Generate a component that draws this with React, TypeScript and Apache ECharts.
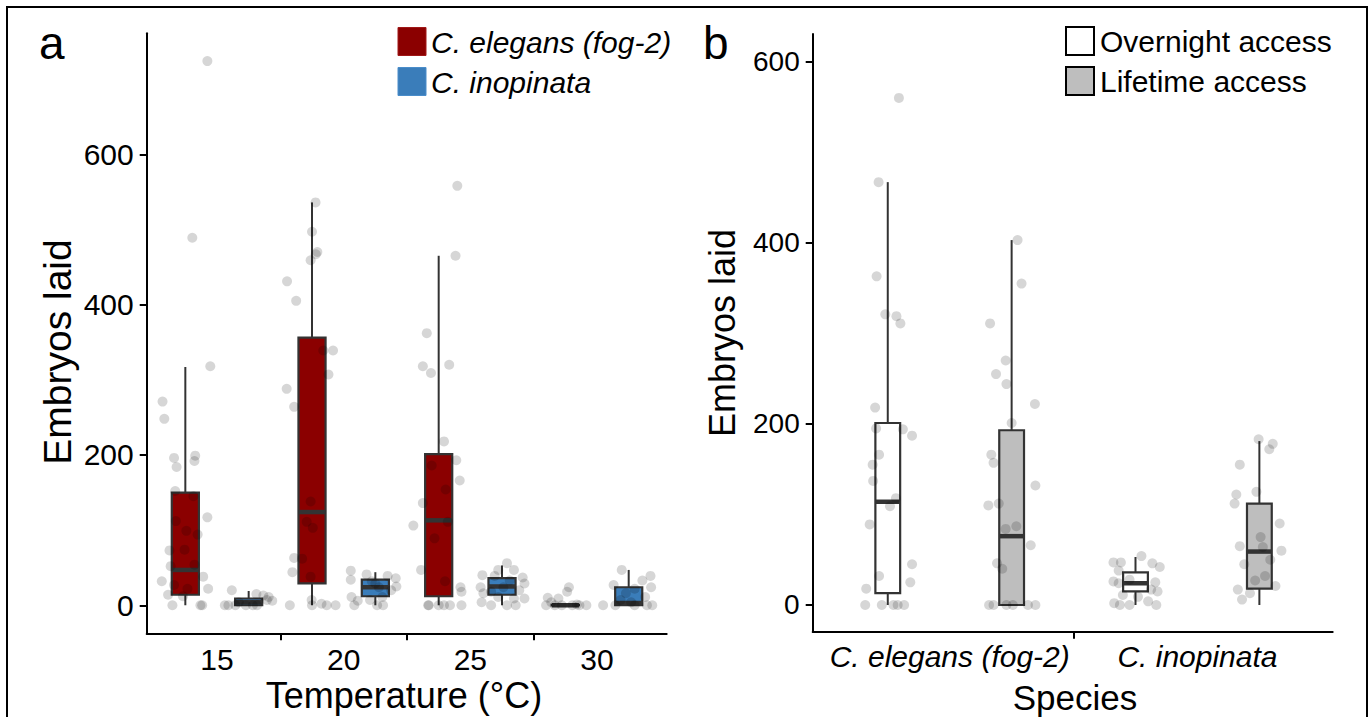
import React, { useEffect, useRef } from 'react';
import * as echarts from 'echarts';

const FONT = '"Liberation Sans", Arial, Helvetica, sans-serif';

const tempLabels = ['15', '20', '25', '30'];
const speciesLabels = ['C. elegans (fog-2)', 'C. inopinata'];
const yTicks = [0, 200, 400, 600];
const tempBoundaries = [0.5, 1.5, 2.5];
const speciesBoundaries = [0.5];

// boxes: [min, q1, median, q3, max]
const elegansBoxA = [[0, 14, 47, 150, 317], [0, 29, 124, 356, 536], [0, 12, 113, 201, 465], [0, 0, 0, 0.5, 1]];
const inopinataBoxA = [[0, 0, 4, 9, 19], [0, 12, 24, 34, 44], [0, 14, 25, 36, 53], [0, 0, 3, 24, 47]];
const overnightBoxB = [[0, 13, 114, 201, 467], [0, 15, 24, 36, 53]];
const lifetimeBoxB = [[0, 0, 76, 193, 403], [0, 18, 59, 112, 181]];

// jittered points: [jitter offset, embryos]
const elegans15 = [[-0.18, 271], [-0.166, 248], [-0.089, 196], [-0.069, 184], [0.078, 199], [0.072, 192], [-0.08, 152], [0.064, 145], [0.174, 117], [-0.075, 112], [0.008, 99], [0.097, 94], [-0.125, 73], [-0.006, 74], [-0.116, 52], [0.072, 54], [-0.186, 32], [0.141, 38], [-0.089, 27], [0.017, 22], [0.18, 22], [-0.136, 14], [-0.019, 12], [-0.102, 0], [0.119, 0], [0.133, 0], [0.197, 318], [0.174, 724], [0.055, 489]];
const inopinata15 = [[-0.133, 20], [-0.188, 0], [-0.16, 0], [0.061, 15], [0.116, 13], [0.158, 11], [0.186, 6], [0.033, 0], [0.066, 0], [-0.078, 4], [-0.022, 0], [0.144, 7], [-0.105, 0]];
const elegans20 = [[0.028, 536], [0, 497], [0.042, 470], [0.03, 467], [-0.011, 459], [-0.197, 431], [-0.125, 405], [0.089, 339], [0.166, 339], [0.13, 307], [-0.2, 288], [-0.141, 264], [-0.011, 138], [-0.042, 111], [0.006, 103], [-0.141, 63], [-0.078, 62], [-0.155, 44], [-0.011, 38], [-0.003, 7], [-0.175, 0], [0.075, 2], [0.116, 0], [0.186, 0], [0, 0]];
const inopinata20 = [[-0.194, 46], [-0.069, 41], [0.097, 39], [0.161, 36], [-0.194, 34], [0, 29], [0.166, 25], [0.125, 20], [-0.188, 11], [-0.139, 6], [-0.042, 7], [0.055, 11], [-0.166, 0], [0.014, 0], [0.061, 0], [0.028, 24], [-0.028, 32]];
const elegans25 = [[0.147, 558], [0.133, 465], [-0.094, 362], [-0.125, 318], [-0.061, 309], [0.083, 320], [0.042, 218], [0.139, 193], [-0.055, 186], [0.166, 166], [0.055, 154], [-0.125, 136], [0.072, 111], [-0.033, 89], [-0.2, 106], [-0.139, 47], [0.05, 32], [0.172, 24], [0.18, 18], [-0.078, 0], [0, 0], [0.042, 0], [0.089, 0], [0.18, 0], [-0.083, 0]];
const inopinata25 = [[0.039, 56], [-0.03, 47], [0.094, 47], [-0.155, 40], [0.163, 37], [-0.058, 39], [0.061, 33], [0.177, 29], [-0.169, 24], [0.011, 24], [0.136, 20], [-0.086, 18], [-0.161, 4], [0.094, 9], [0.177, 9], [-0.086, 0], [0.039, 0], [0.108, 0], [-0.03, 11], [-0.147, 16]];
const elegans30 = [[0.028, 24], [0.014, 18], [-0.139, 10], [-0.055, 9], [-0.152, 0], [-0.083, 0], [-0.028, 0], [0.055, 0], [0.111, 0], [0.166, 0], [-0.111, 4], [0.091, 1]];
const inopinata30 = [[-0.055, 47], [0.172, 39], [0.108, 33], [0.177, 24], [-0.119, 27], [0.047, 22], [-0.022, 16], [0.13, 11], [-0.064, 7], [0.186, 0], [-0.202, 0], [0.047, 0], [0.144, 0], [-0.105, 0], [0.019, 4]];

const overnightElegans = [[0.045, 560], [-0.037, 467], [-0.045, 363], [-0.01, 321], [0.035, 319], [0.051, 311], [-0.051, 218], [-0.047, 195], [0.061, 194], [0.098, 187], [-0.035, 166], [-0.061, 155], [-0.059, 137], [0.033, 118], [0.009, 109], [-0.073, 89], [0.098, 45], [-0.035, 32], [0.091, 25], [-0.087, 18], [-0.091, 0], [-0.024, 0], [0.023, 0], [0.04, 0], [0.066, 0]];
const lifetimeElegans = [[0.024, 403], [0.04, 355], [-0.087, 311], [-0.024, 270], [-0.063, 255], [-0.021, 244], [0.094, 222], [0, 201], [-0.082, 166], [-0.073, 157], [0.096, 132], [-0.094, 110], [-0.052, 112], [0.019, 87], [-0.024, 84], [0.077, 66], [-0.059, 46], [-0.038, 40], [-0.091, 0], [-0.073, 0], [-0.021, 0], [0.005, 0], [0.066, 0], [0.096, 0]];
const overnightInopinata = [[0.024, 54], [-0.089, 47], [-0.059, 47], [0.068, 46], [0.098, 42], [-0.068, 38], [-0.089, 26], [-0.024, 28], [0.08, 25], [0.063, 17], [-0.051, 11], [0.01, 9], [0.089, 15], [0.051, 4], [-0.086, 2], [-0.063, 0], [-0.024, 0], [0.084, 0], [-0.068, 24]];
const lifetimeInopinata = [[-0.003, 183], [0.054, 178], [0.04, 172], [-0.079, 155], [-0.012, 125], [-0.093, 122], [-0.1, 112], [0.082, 90], [0.005, 75], [-0.079, 65], [0.014, 64], [0.089, 60], [-0.061, 45], [0.044, 50], [0.023, 32], [-0.017, 27], [0.065, 21], [-0.087, 17], [-0.038, 13], [-0.07, 6]];

const elegansPointsA = [elegans15, elegans20, elegans25, elegans30];
const inopinataPointsA = [inopinata15, inopinata20, inopinata25, inopinata30];
const overnightPointsB = [overnightElegans, overnightInopinata];
const lifetimePointsB = [lifetimeElegans, lifetimeInopinata];

const DODGE = 0.25;

function boxData(boxes: number[][], shift: number) {
  return boxes.map((b, g) => [g + shift, ...b]);
}
function pointData(groups: number[][][], shift: number) {
  const out: number[][] = [];
  groups.forEach((pts, g) => pts.forEach(([j, v]) => out.push([g + shift + j, v])));
  return out;
}

function boxSeries(axis: number, data: number[][], fill: string, hw: number) {
  return {
    type: 'custom',
    xAxisIndex: axis,
    yAxisIndex: axis,
    data,
    z: 2,
    silent: true,
    encode: { x: 0, y: [1, 2, 3, 4, 5] },
    renderItem: (params: any, api: any) => {
      const x = api.value(0);
      const mn = api.value(1), q1 = api.value(2), md = api.value(3), q3 = api.value(4), mx = api.value(5);
      const pMin = api.coord([x, mn]);
      const pQ1 = api.coord([x, q1]);
      const pMd = api.coord([x, md]);
      const pQ3 = api.coord([x, q3]);
      const pMax = api.coord([x, mx]);
      const xl = api.coord([x - hw, md])[0];
      const xr = api.coord([x + hw, md])[0];
      const stroke = '#333333';
      return {
        type: 'group',
        children: [
          { type: 'line', shape: { x1: pMax[0], y1: pMax[1], x2: pQ3[0], y2: pQ3[1] }, style: { stroke, lineWidth: 2 } },
          { type: 'line', shape: { x1: pQ1[0], y1: pQ1[1], x2: pMin[0], y2: pMin[1] }, style: { stroke, lineWidth: 2 } },
          { type: 'rect', shape: { x: xl, y: pQ3[1], width: xr - xl, height: pQ1[1] - pQ3[1] }, style: { fill, stroke, lineWidth: 2.2 } },
          { type: 'line', shape: { x1: xl, y1: pMd[1], x2: xr, y2: pMd[1] }, style: { stroke, lineWidth: 4.5 } },
        ],
      };
    },
  };
}

function pointSeries(axis: number, data: number[][]) {
  return {
    type: 'scatter',
    xAxisIndex: axis,
    yAxisIndex: axis,
    data,
    symbolSize: 10,
    z: 3,
    silent: true,
    itemStyle: { color: 'rgba(0,0,0,0.2)' },
  };
}

function axisCommon() {
  return {
    type: 'value',
    splitLine: { show: false },
    axisLine: { show: true, onZero: false, lineStyle: { color: '#000', width: 2 } },
  };
}

export default function App() {
  const ref = useRef<HTMLDivElement>(null);
  useEffect(() => {
    if (!ref.current) return;
    const chart = echarts.init(ref.current, undefined, { renderer: 'svg' });
    const option: any = {
      animation: false,
      backgroundColor: '#fff',
      grid: [
        { left: 146.7, right: 702.3, top: 33.3, bottom: 83.7, containLabel: false },
        { left: 812.7, right: 36.3, top: 34, bottom: 85.3, containLabel: false },
      ],
      xAxis: [
        {
          ...axisCommon(),
          gridIndex: 0,
          min: -0.555,
          max: 3.55,
          axisTick: { show: true, customValues: tempBoundaries, length: 7, lineStyle: { color: '#000', width: 2 } },
          axisLabel: {
            customValues: [0, 1, 2, 3],
            formatter: (v: number) => tempLabels[Math.round(v)],
            fontSize: 30, color: '#000', fontFamily: FONT, margin: 11,
          },
        },
        {
          ...axisCommon(),
          gridIndex: 1,
          min: -0.553,
          max: 1.546,
          axisTick: { show: true, customValues: speciesBoundaries, length: 7, lineStyle: { color: '#000', width: 2 } },
          axisLabel: {
            customValues: [0, 1],
            formatter: (v: number) => speciesLabels[Math.round(v)],
            fontSize: 30, fontStyle: 'italic', color: '#000', fontFamily: FONT, margin: 10,
          },
        },
      ],
      yAxis: [
        {
          ...axisCommon(),
          gridIndex: 0,
          min: -37.3,
          max: 761,
          axisTick: { show: true, customValues: yTicks, length: 7, lineStyle: { color: '#000', width: 2 } },
          axisLabel: { customValues: yTicks, fontSize: 30, color: '#000', fontFamily: FONT, margin: 13 },
        },
        {
          ...axisCommon(),
          gridIndex: 1,
          min: -29.5,
          max: 630.6,
          axisTick: { show: true, customValues: yTicks, length: 7, lineStyle: { color: '#000', width: 2 } },
          axisLabel: { customValues: yTicks, fontSize: 28, color: '#000', fontFamily: FONT, margin: 13 },
        },
      ],
      series: [
        boxSeries(0, boxData(elegansBoxA, -DODGE), '#8b0000', 0.107),
        boxSeries(0, boxData(inopinataBoxA, DODGE), '#3a7dba', 0.107),
        pointSeries(0, pointData(elegansPointsA, -DODGE)),
        pointSeries(0, pointData(inopinataPointsA, DODGE)),
        boxSeries(1, boxData(overnightBoxB, -DODGE), '#ffffff', 0.05),
        boxSeries(1, boxData(lifetimeBoxB, DODGE), '#bebebe', 0.05),
        pointSeries(1, pointData(overnightPointsB, -DODGE)),
        pointSeries(1, pointData(lifetimePointsB, DODGE)),
      ],
      graphic: [
        { type: 'rect', shape: { x: 7, y: 7, width: 1360, height: 730 }, style: { fill: 'none', stroke: '#000', lineWidth: 2 }, silent: true },
        { type: 'text', x: 39, y: 43, style: { text: 'a', fontSize: 46, fontFamily: FONT, fill: '#000', verticalAlign: 'middle', align: 'left' } },
        { type: 'text', x: 703, y: 43, style: { text: 'b', fontSize: 46, fontFamily: FONT, fill: '#000', verticalAlign: 'middle', align: 'left' } },
        { type: 'text', x: 57, y: 352, rotation: Math.PI / 2, style: { text: 'Embryos laid', fontSize: 39, fontFamily: FONT, fill: '#000', verticalAlign: 'middle', align: 'center' } },
        { type: 'text', x: 722, y: 333, rotation: Math.PI / 2, style: { text: 'Embryos laid', fontSize: 36, fontFamily: FONT, fill: '#000', verticalAlign: 'middle', align: 'center' } },
        { type: 'text', x: 404, y: 695, style: { text: 'Temperature (°C)', fontSize: 36, fontFamily: FONT, fill: '#000', verticalAlign: 'middle', align: 'center' } },
        { type: 'text', x: 1075, y: 697, style: { text: 'Species', fontSize: 35, fontFamily: FONT, fill: '#000', verticalAlign: 'middle', align: 'center' } },
        { type: 'rect', shape: { x: 398, y: 27.5, width: 28, height: 28 }, style: { fill: '#8b0000', stroke: '#a01818', lineWidth: 1 } },
        { type: 'text', x: 431, y: 42, style: { text: 'C. elegans (fog-2)', fontSize: 30, fontStyle: 'italic', fontFamily: FONT, fill: '#000', verticalAlign: 'middle', align: 'left' } },
        { type: 'rect', shape: { x: 398, y: 67.5, width: 28, height: 28 }, style: { fill: '#3a7dba', stroke: '#4a8dca', lineWidth: 1 } },
        { type: 'text', x: 431, y: 82, style: { text: 'C. inopinata', fontSize: 30, fontStyle: 'italic', fontFamily: FONT, fill: '#000', verticalAlign: 'middle', align: 'left' } },
        { type: 'rect', shape: { x: 1066, y: 27, width: 28, height: 28 }, style: { fill: '#ffffff', stroke: '#000', lineWidth: 2 } },
        { type: 'text', x: 1100, y: 41, style: { text: 'Overnight access', fontSize: 30, fontFamily: FONT, fill: '#000', verticalAlign: 'middle', align: 'left' } },
        { type: 'rect', shape: { x: 1066, y: 67, width: 28, height: 28 }, style: { fill: '#bebebe', stroke: '#000', lineWidth: 2 } },
        { type: 'text', x: 1100, y: 81, style: { text: 'Lifetime access', fontSize: 30, fontFamily: FONT, fill: '#000', verticalAlign: 'middle', align: 'left' } },
      ],
    };
    chart.setOption(option);
    return () => chart.dispose();
  }, []);
  return <div ref={ref} style={{ position: 'fixed', left: 0, top: 0, width: 1369, height: 717 }} />;
}
